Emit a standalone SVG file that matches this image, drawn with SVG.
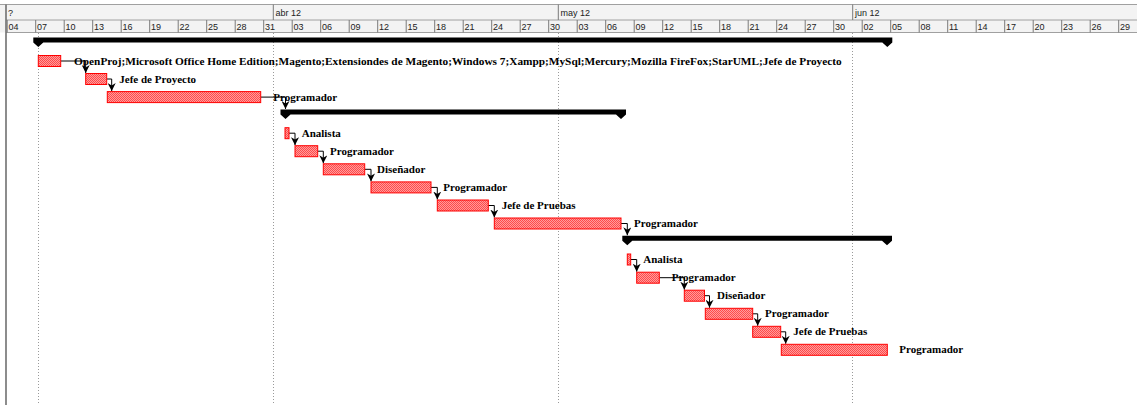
<svg xmlns="http://www.w3.org/2000/svg" width="1137" height="405" viewBox="0 0 1137 405">
<style>
.hdr{font-family:"Liberation Sans",Arial,sans-serif;font-size:9px;fill:#222}
.lbl{font-family:"Liberation Serif","Times New Roman",serif;font-size:11px;font-weight:bold;fill:#000}
.bar{fill:url(#chk);stroke:#ff0000;stroke-width:1}
.sum{fill:#000}
.tick{stroke:#7a7a7a;stroke-width:1}
.grid{stroke:#9a9a9a;stroke-width:1;stroke-dasharray:1,2}
.con{fill:none;stroke:#000;stroke-width:1;marker-end:url(#arr)}
</style>
<defs>
<pattern id="chk" x="0" y="0" width="2" height="2" patternUnits="userSpaceOnUse">
<rect width="2" height="2" fill="#ff9c9c"/>
<rect width="1" height="1" fill="#ff4a4a"/>
<rect x="1" y="1" width="1" height="1" fill="#ff4a4a"/>
</pattern>
<marker id="arr" viewBox="0 0 10 10" refX="10" refY="5" markerWidth="8" markerHeight="8" markerUnits="userSpaceOnUse" orient="auto">
<path d="M0,0 L10,5 L0,10 L3,5 Z" fill="#000"/>
</marker>
</defs>
<rect width="1137" height="405" fill="#fff"/>
<g id="timescale">
<rect x="0" y="4.5" width="1137" height="28" fill="#f3f3f3"/>
<line x1="0" y1="4.5" x2="1137" y2="4.5" stroke="#a0a0a0"/>
<line x1="6" y1="20" x2="1137" y2="20" stroke="#a0a0a0"/>
<line x1="6" y1="32.5" x2="1137" y2="32.5" stroke="#a0a0a0"/>
<text class="hdr" x="8" y="16" font-size="8">?</text>
<line class="tick" x1="273.3" y1="4.5" x2="273.3" y2="20" stroke="#555"/>
<text class="hdr" x="275.5" y="16">abr 12</text>
<line class="tick" x1="558.3" y1="4.5" x2="558.3" y2="20" stroke="#555"/>
<text class="hdr" x="560.5" y="16">may 12</text>
<line class="tick" x1="852.7" y1="4.5" x2="852.7" y2="20" stroke="#555"/>
<text class="hdr" x="855" y="16">jun 12</text>
<g id="days">
<line class="tick" x1="7.2" y1="20" x2="7.2" y2="32.5"/><text class="hdr" x="8.5" y="30">04</text>
<line class="tick" x1="35.7" y1="20" x2="35.7" y2="32.5"/><text class="hdr" x="37" y="30">07</text>
<line class="tick" x1="64.2" y1="20" x2="64.2" y2="32.5"/><text class="hdr" x="65.5" y="30">10</text>
<line class="tick" x1="92.7" y1="20" x2="92.7" y2="32.5"/><text class="hdr" x="94" y="30">13</text>
<line class="tick" x1="121.2" y1="20" x2="121.2" y2="32.5"/><text class="hdr" x="122.5" y="30">16</text>
<line class="tick" x1="149.7" y1="20" x2="149.7" y2="32.5"/><text class="hdr" x="151" y="30">19</text>
<line class="tick" x1="178.2" y1="20" x2="178.2" y2="32.5"/><text class="hdr" x="179.5" y="30">22</text>
<line class="tick" x1="206.7" y1="20" x2="206.7" y2="32.5"/><text class="hdr" x="208" y="30">25</text>
<line class="tick" x1="235.2" y1="20" x2="235.2" y2="32.5"/><text class="hdr" x="236.5" y="30">28</text>
<line class="tick" x1="263.7" y1="20" x2="263.7" y2="32.5"/><text class="hdr" x="265" y="30">31</text>
<line class="tick" x1="292.2" y1="20" x2="292.2" y2="32.5"/><text class="hdr" x="293.5" y="30">03</text>
<line class="tick" x1="320.7" y1="20" x2="320.7" y2="32.5"/><text class="hdr" x="322" y="30">06</text>
<line class="tick" x1="349.2" y1="20" x2="349.2" y2="32.5"/><text class="hdr" x="350.5" y="30">09</text>
<line class="tick" x1="377.7" y1="20" x2="377.7" y2="32.5"/><text class="hdr" x="379" y="30">12</text>
<line class="tick" x1="406.2" y1="20" x2="406.2" y2="32.5"/><text class="hdr" x="407.5" y="30">15</text>
<line class="tick" x1="434.7" y1="20" x2="434.7" y2="32.5"/><text class="hdr" x="436" y="30">18</text>
<line class="tick" x1="463.2" y1="20" x2="463.2" y2="32.5"/><text class="hdr" x="464.5" y="30">21</text>
<line class="tick" x1="491.7" y1="20" x2="491.7" y2="32.5"/><text class="hdr" x="493" y="30">24</text>
<line class="tick" x1="520.2" y1="20" x2="520.2" y2="32.5"/><text class="hdr" x="521.5" y="30">27</text>
<line class="tick" x1="548.7" y1="20" x2="548.7" y2="32.5"/><text class="hdr" x="550" y="30">30</text>
<line class="tick" x1="577.2" y1="20" x2="577.2" y2="32.5"/><text class="hdr" x="578.5" y="30">03</text>
<line class="tick" x1="605.7" y1="20" x2="605.7" y2="32.5"/><text class="hdr" x="607" y="30">06</text>
<line class="tick" x1="634.2" y1="20" x2="634.2" y2="32.5"/><text class="hdr" x="635.5" y="30">09</text>
<line class="tick" x1="662.7" y1="20" x2="662.7" y2="32.5"/><text class="hdr" x="664" y="30">12</text>
<line class="tick" x1="691.2" y1="20" x2="691.2" y2="32.5"/><text class="hdr" x="692.5" y="30">15</text>
<line class="tick" x1="719.7" y1="20" x2="719.7" y2="32.5"/><text class="hdr" x="721" y="30">18</text>
<line class="tick" x1="748.2" y1="20" x2="748.2" y2="32.5"/><text class="hdr" x="749.5" y="30">21</text>
<line class="tick" x1="776.7" y1="20" x2="776.7" y2="32.5"/><text class="hdr" x="778" y="30">24</text>
<line class="tick" x1="805.2" y1="20" x2="805.2" y2="32.5"/><text class="hdr" x="806.5" y="30">27</text>
<line class="tick" x1="833.7" y1="20" x2="833.7" y2="32.5"/><text class="hdr" x="835" y="30">30</text>
<line class="tick" x1="862.2" y1="20" x2="862.2" y2="32.5"/><text class="hdr" x="863.5" y="30">02</text>
<line class="tick" x1="890.7" y1="20" x2="890.7" y2="32.5"/><text class="hdr" x="892" y="30">05</text>
<line class="tick" x1="919.2" y1="20" x2="919.2" y2="32.5"/><text class="hdr" x="920.5" y="30">08</text>
<line class="tick" x1="947.7" y1="20" x2="947.7" y2="32.5"/><text class="hdr" x="949" y="30">11</text>
<line class="tick" x1="976.2" y1="20" x2="976.2" y2="32.5"/><text class="hdr" x="977.5" y="30">14</text>
<line class="tick" x1="1004.7" y1="20" x2="1004.7" y2="32.5"/><text class="hdr" x="1006" y="30">17</text>
<line class="tick" x1="1033.2" y1="20" x2="1033.2" y2="32.5"/><text class="hdr" x="1034.5" y="30">20</text>
<line class="tick" x1="1061.7" y1="20" x2="1061.7" y2="32.5"/><text class="hdr" x="1063" y="30">23</text>
<line class="tick" x1="1090.2" y1="20" x2="1090.2" y2="32.5"/><text class="hdr" x="1091.5" y="30">26</text>
<line class="tick" x1="1118.7" y1="20" x2="1118.7" y2="32.5"/><text class="hdr" x="1120" y="30">29</text>
</g>
</g>
<g id="gridlines">
<line class="grid" x1="38.5" y1="33" x2="38.5" y2="405"/>
<line class="grid" x1="273.5" y1="33" x2="273.5" y2="405"/>
<line class="grid" x1="558.5" y1="33" x2="558.5" y2="405"/>
<line class="grid" x1="852.5" y1="33" x2="852.5" y2="405"/>
<line x1="6" y1="4.5" x2="6" y2="405" stroke="#707070" stroke-width="1.6"/>
</g>
<g id="connectors">
<path class="con" d="M60.7,61 H85.7 V73"/>
<path class="con" d="M106.7,79 H111.7 V91.1"/>
<path class="con" d="M260.7,97.1 H285.5 V109"/>
<path class="con" d="M289,133.2 H295 V145.2"/>
<path class="con" d="M317.7,151.2 H323.3 V163.3"/>
<path class="con" d="M364.7,169.3 H371 V181.4"/>
<path class="con" d="M431,187.4 H437.3 V199.5"/>
<path class="con" d="M488.3,205.5 H494.3 V217.5"/>
<path class="con" d="M621,223.5 H627.3 V235.3"/>
<path class="con" d="M630.7,259.5 H636.7 V271.7"/>
<path class="con" d="M659.3,277.7 H684.3 V289.7"/>
<path class="con" d="M704.5,295.7 H709.5 V307.8"/>
<path class="con" d="M752.7,313.8 H757.7 V325.8"/>
<path class="con" d="M780.7,331.8 H785.7 V343.8"/>
</g>
<g id="summary-0"><path class="sum" d="M33.3,37.5 H892.3 V42.5 L887.3,47 L882.3,42.5 H43.3 L38.3,47 L33.3,42.5 Z"/></g>
<g id="task-1"><rect class="bar" x="38.3" y="55.5" width="22.4" height="11"/><text class="lbl" x="74" y="64.5" textLength="767.7" lengthAdjust="spacingAndGlyphs">OpenProj;Microsoft Office Home Edition;Magento;Extensiondes de Magento;Windows 7;Xampp;MySql;Mercury;Mozilla FireFox;StarUML;Jefe de Proyecto</text></g>
<g id="task-2"><rect class="bar" x="85.7" y="73.5" width="21" height="11"/><text class="lbl" x="119.3" y="82.5">Jefe de Proyecto</text></g>
<g id="task-3"><rect class="bar" x="107.3" y="91.6" width="153.4" height="11"/><text class="lbl" x="273.3" y="100.6">Programador</text></g>
<g id="summary-4"><path class="sum" d="M280.5,109.5 H626 V114.5 L621,119 L616,114.5 H290.5 L285.5,119 L280.5,114.5 Z"/></g>
<g id="task-5"><rect class="bar" x="285" y="127.7" width="4" height="11"/><text class="lbl" x="301.7" y="136.7">Analista</text></g>
<g id="task-6"><rect class="bar" x="295" y="145.7" width="22.7" height="11"/><text class="lbl" x="330" y="154.7">Programador</text></g>
<g id="task-7"><rect class="bar" x="323.3" y="163.8" width="41.4" height="11"/><text class="lbl" x="377" y="172.8">Diseñador</text></g>
<g id="task-8"><rect class="bar" x="371" y="181.9" width="60" height="11"/><text class="lbl" x="443.3" y="190.9">Programador</text></g>
<g id="task-9"><rect class="bar" x="437.3" y="200" width="51" height="11"/><text class="lbl" x="501.7" y="209">Jefe de Pruebas</text></g>
<g id="task-10"><rect class="bar" x="494.3" y="218" width="126.7" height="11"/><text class="lbl" x="634" y="227">Programador</text></g>
<g id="summary-11"><path class="sum" d="M622.3,235.8 H892 V240.8 L887,245.3 L882,240.8 H632.3 L627.3,245.3 L622.3,240.8 Z"/></g>
<g id="task-12"><rect class="bar" x="627.3" y="254" width="3.4" height="11"/><text class="lbl" x="643.3" y="263">Analista</text></g>
<g id="task-13"><rect class="bar" x="636.7" y="272.2" width="22.6" height="11"/><text class="lbl" x="671.7" y="281.2">Programador</text></g>
<g id="task-14"><rect class="bar" x="684.3" y="290.2" width="20.2" height="11"/><text class="lbl" x="717" y="299.2">Diseñador</text></g>
<g id="task-15"><rect class="bar" x="705.3" y="308.3" width="47.4" height="11"/><text class="lbl" x="765" y="317.3">Programador</text></g>
<g id="task-16"><rect class="bar" x="752.7" y="326.3" width="28" height="11"/><text class="lbl" x="793.3" y="335.3">Jefe de Pruebas</text></g>
<g id="task-17"><rect class="bar" x="781.3" y="344.3" width="106" height="11"/><text class="lbl" x="899.3" y="353.3">Programador</text></g>
</svg>
